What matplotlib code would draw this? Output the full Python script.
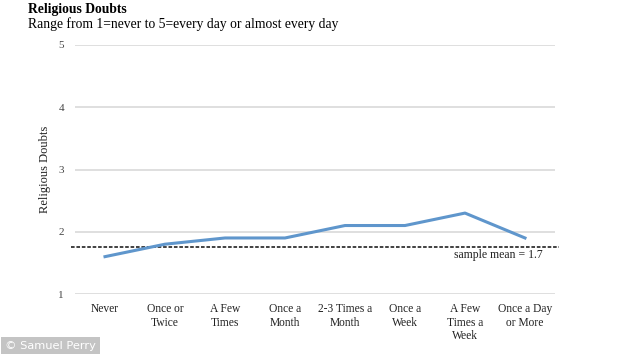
import matplotlib
matplotlib.use('Agg')
import matplotlib.pyplot as plt

# 数据
categories = ['Never', 'Once or\nTwice', 'A Few\nTimes', 'Once a\nMonth', '2-3 Times a\nMonth',
              'Once a\nWeek', 'A Few\nTimes a\nWeek', 'Once a Day\nor More']
doubts = [1.6, 1.8, 1.9, 1.9, 2.1, 2.1, 2.3, 1.9]
sample_mean = 1.75
yticks = [1, 2, 3, 4, 5]

plt.rcParams['font.family'] = ['Liberation Serif', 'DejaVu Serif']

fig = plt.figure(figsize=(6.34, 3.54), dpi=100)
ax = fig.add_axes([75/634, 1 - 294/354, 480/634, 249/354])

x = list(range(len(categories)))
# 网格线
for v in yticks:
    ax.axhline(v, color='#d9d9d9', lw=1.2, zorder=1)
ax.plot(x, doubts, color='#5f96cc', lw=2.2, zorder=3)
ax.plot([-0.56, 7.57], [sample_mean, sample_mean], color='#333333', lw=1.3,
        ls=(0, (2, 1)), clip_on=False, zorder=2)
ax.text(7.3, 1.62, 'sample mean = 1.7', ha='right', va='center', fontsize=8.5, color='#222222')

ax.set_xlim(-0.5, 7.5)
ax.set_ylim(1, 5)
ax.set_xticks(x)
ax.set_xticklabels(categories, fontsize=8.3, color='#222222', linespacing=1.17, va='top')
ax.set_yticks(yticks)
ax.set_yticklabels([str(v) for v in yticks], fontsize=8, color='#444444')
ax.tick_params(length=0, pad=8)
ax.tick_params(axis='x', pad=6.5)
for s in ax.spines.values():
    s.set_visible(False)
ax.set_ylabel('Religious Doubts', fontsize=9, color='#222222', labelpad=5)

fig.text(28/634, 1 - 10/354, 'Religious Doubts', fontsize=9.8, fontweight='bold', va='center')
fig.text(28/634, 1 - 24/354, 'Range from 1=never to 5=every day or almost every day', fontsize=9.8, va='center')

# 水印
fig.text(5/634, 1 - 346/354, '\u00a9 Samuel Perry', fontsize=8.2, color='white', family='DejaVu Sans',
         va='center', bbox=dict(boxstyle='square,pad=0.35', fc='#c4c4c4', ec='none'))

fig.savefig('out.png', dpi=100)
